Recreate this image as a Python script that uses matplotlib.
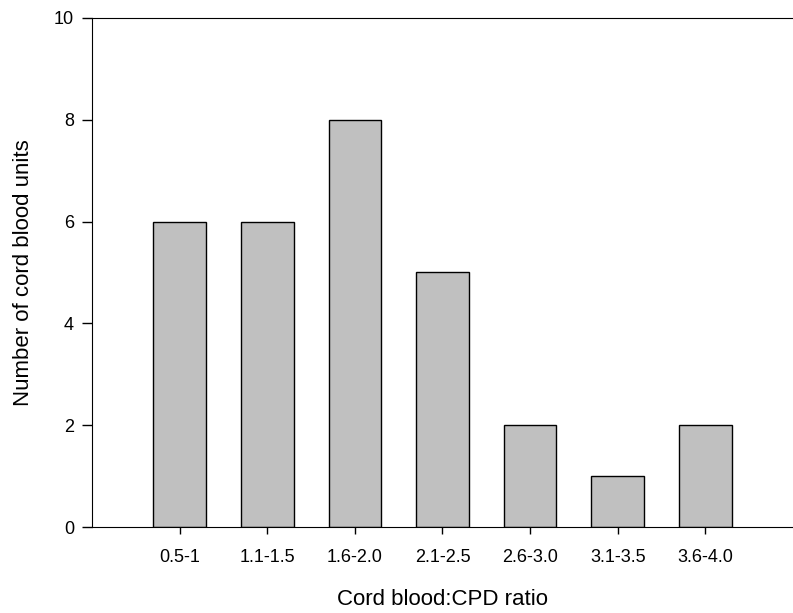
import matplotlib
matplotlib.use("Agg")
import matplotlib.pyplot as plt

plt.rcParams['font.family'] = ['Liberation Sans', 'DejaVu Sans']

# Данные гистограммы
categories = ['0.5-1', '1.1-1.5', '1.6-2.0', '2.1-2.5', '2.6-3.0', '3.1-3.5', '3.6-4.0']
counts = [6, 6, 8, 5, 2, 1, 2]

fig = plt.figure(figsize=(7.93, 6.13), dpi=100)
ax = fig.add_axes([0.116, 0.140, 0.884, 0.831])

pos = list(range(len(categories)))
ax.bar(pos, counts, width=0.6, color='#c0c0c0', edgecolor='black', linewidth=1.0)

ax.set_xlim(-1, 7)
ax.set_ylim(0, 10)
ax.set_xticks(pos)
ax.set_xticklabels(categories)
ax.set_yticks([0, 2, 4, 6, 8, 10])

ax.spines['right'].set_visible(False)
ax.tick_params(axis='both', direction='out', labelsize=13, width=1)
ax.tick_params(axis='y', length=7, pad=6)
ax.tick_params(axis='x', length=5, pad=11)

ax.set_xlabel('Cord blood:CPD ratio', fontsize=16, labelpad=16)
ax.set_ylabel('Number of cord blood units', fontsize=16, labelpad=14)

plt.savefig('out.png', dpi=100)
